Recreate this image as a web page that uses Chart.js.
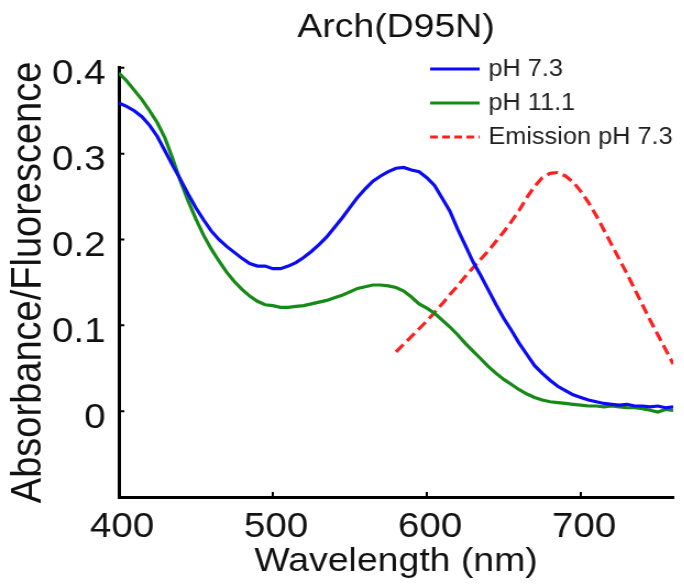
<!DOCTYPE html>
<html>
<head>
<meta charset="utf-8">
<script src="https://cdn.jsdelivr.net/npm/chart.js@4.4.1/dist/chart.umd.min.js"></script>
<style>
  body { margin: 0; background: #fff; overflow: hidden; }
  /* the source figure is a bit wide: draw 622 px wide and stretch to 684 */
  #wrap { width: 622px; height: 584px; transform: scaleX(1.1); transform-origin: 0 0; }
</style>
</head>
<body>
<div id="wrap"><canvas id="spectra" width="622" height="584"></canvas></div>
<script>
// Absorbance spectra, wavelength in nm
const absWavelength = [400,405,410,415,420,425,430,435,440,445,450,455,460,465,470,475,480,485,490,495,
  500,505,510,515,520,525,530,535,540,545,550,555,560,565,570,575,580,585,590,595,
  600,605,610,615,620,625,630,635,640,645,650,655,660,665,670,675,680,685,690,695,
  700,705,710,715,720,725,730,735,740,745,750,755,760];

const ph73 = [0.359,0.355,0.350,0.343,0.333,0.320,0.303,0.286,0.270,0.253,0.237,0.223,0.210,0.200,0.192,0.185,0.178,0.172,0.169,0.169,
  0.166,0.166,0.169,0.173,0.179,0.186,0.194,0.203,0.214,0.225,0.237,0.249,0.259,0.268,0.274,0.279,0.283,0.284,0.281,0.279,
  0.272,0.263,0.248,0.233,0.212,0.193,0.174,0.158,0.141,0.124,0.108,0.094,0.079,0.066,0.053,0.044,0.036,0.029,0.024,0.019,
  0.016,0.013,0.011,0.009,0.008,0.007,0.008,0.006,0.006,0.005,0.006,0.004,0.005];

const ph111 = [0.394,0.385,0.374,0.363,0.350,0.336,0.318,0.294,0.268,0.245,0.224,0.205,0.189,0.175,0.162,0.151,0.142,0.134,0.128,0.124,
  0.123,0.121,0.121,0.122,0.123,0.125,0.127,0.129,0.132,0.135,0.139,0.143,0.145,0.147,0.147,0.146,0.144,0.140,0.133,0.125,
  0.120,0.114,0.106,0.098,0.089,0.079,0.070,0.061,0.052,0.044,0.037,0.031,0.025,0.020,0.016,0.013,0.011,0.010,0.009,0.008,
  0.007,0.006,0.006,0.005,0.006,0.005,0.004,0.004,0.003,0.001,-0.001,0.002,0.001];

// Emission spectrum at pH 7.3
const emWavelength = [580,585,590,595,600,605,610,615,620,625,630,635,640,645,650,655,660,665,670,675,
  680,685,690,695,700,705,710,715,720,725,730,735,740,745,750,755,760];
const emission73 = [0.069,0.078,0.087,0.096,0.105,0.115,0.125,0.136,0.146,0.157,0.167,0.177,0.187,0.198,0.209,0.221,0.234,0.249,0.262,0.272,
  0.277,0.278,0.274,0.267,0.256,0.243,0.228,0.211,0.194,0.177,0.160,0.142,0.124,0.106,0.089,0.072,0.055];

const xTicks = [400, 500, 600, 700];
const yTicks = [0, 0.1, 0.2, 0.3, 0.4];
const yTickLabels = ['0', '0.1', '0.2', '0.3', '0.4'];

const pairs = (xs, ys) => xs.map((x, i) => ({ x: x, y: ys[i] }));

Chart.defaults.font.family = "'Liberation Sans', Arial, sans-serif";
Chart.defaults.color = '#111';

// small inward tick marks on both axes
const tickMarks = {
  id: 'tickMarks',
  afterDraw(chart) {
    const { ctx, chartArea, scales } = chart;
    ctx.save();
    ctx.strokeStyle = '#000';
    ctx.lineWidth = 2;
    ctx.beginPath();
    scales.x.ticks.forEach(t => {
      if (t.value === scales.x.min) return;
      const px = scales.x.getPixelForValue(t.value);
      ctx.moveTo(px, chartArea.bottom);
      ctx.lineTo(px, chartArea.bottom - 5);
    });
    scales.y.ticks.forEach(t => {
      const py = scales.y.getPixelForValue(t.value);
      ctx.moveTo(chartArea.left, py);
      ctx.lineTo(chartArea.left + 5, py);
    });
    ctx.stroke();
    ctx.restore();
  }
};

// legend in the top right corner, like the original figure
const cornerLegend = {
  id: 'cornerLegend',
  afterDraw(chart) {
    const ctx = chart.ctx;
    const rows = [69, 103, 137];
    ctx.save();
    ctx.font = "23px 'Liberation Sans', Arial, sans-serif";
    ctx.textBaseline = 'middle';
    ctx.textAlign = 'left';
    chart.data.datasets.forEach((ds, i) => {
      const y = rows[i];
      ctx.strokeStyle = ds.borderColor;
      ctx.lineWidth = 2.8;
      ctx.setLineDash(ds.borderDash ? [7, 4] : []);
      ctx.beginPath();
      ctx.moveTo(391, y);
      ctx.lineTo(436, y);
      ctx.stroke();
      ctx.setLineDash([]);
      ctx.fillStyle = '#222';
      ctx.fillText(ds.label, 444, y + 1);
    });
    ctx.restore();
  }
};

new Chart(document.getElementById('spectra'), {
  type: 'line',
  data: {
    datasets: [
      {
        label: 'pH 7.3',
        data: pairs(absWavelength, ph73),
        borderColor: '#0b0bf5',
        borderWidth: 3.2,
        pointRadius: 0
      },
      {
        label: 'pH 11.1',
        data: pairs(absWavelength, ph111),
        borderColor: '#168a16',
        borderWidth: 3.2,
        pointRadius: 0
      },
      {
        label: 'Emission pH 7.3',
        data: pairs(emWavelength, emission73),
        borderColor: '#ff1f1f',
        borderWidth: 3.2,
        borderDash: [10, 5],
        pointRadius: 0
      }
    ]
  },
  options: {
    responsive: false,
    animation: false,
    layout: { padding: { left: 0, right: 10, top: 0, bottom: 0 } },
    plugins: {
      legend: { display: false },
      tooltip: { enabled: false },
      title: {
        display: true,
        text: 'Arch(D95N)',
        fullSize: false,
        color: '#111',
        font: { size: 34, weight: 'normal' },
        padding: { top: 7, bottom: 20 }
      }
    },
    scales: {
      x: {
        type: 'linear',
        min: 400,
        max: 760,
        afterBuildTicks: axis => { axis.ticks = xTicks.map(v => ({ value: v })); },
        afterFit: axis => { axis.height = 87; },
        grid: { drawOnChartArea: false, drawTicks: false },
        border: { color: '#000', width: 3 },
        ticks: {
          padding: 9,
          labelOffset: 3,
          font: { size: 35 },
          color: '#111',
          callback: v => String(v)
        },
        title: {
          display: true,
          text: 'Wavelength (nm)',
          color: '#111',
          font: { size: 34 },
          padding: { top: 0, bottom: 2 }
        }
      },
      y: {
        min: -0.1,
        max: 0.4,
        afterBuildTicks: axis => { axis.ticks = yTicks.map(v => ({ value: v })); },
        afterFit: axis => { axis.width = 108; },
        grid: { drawOnChartArea: false, drawTicks: false },
        border: { color: '#000', width: 3 },
        ticks: {
          padding: 12,
          labelOffset: 7,
          font: { size: 35 },
          color: '#111',
          callback: v => yTickLabels[yTicks.indexOf(v)]
        },
        title: {
          display: true,
          text: 'Absorbance/Fluorescence',
          color: '#111',
          font: { size: 38 },
          padding: { top: 4, bottom: 0 }
        }
      }
    }
  },
  plugins: [tickMarks, cornerLegend]
});
</script>
</body>
</html>
